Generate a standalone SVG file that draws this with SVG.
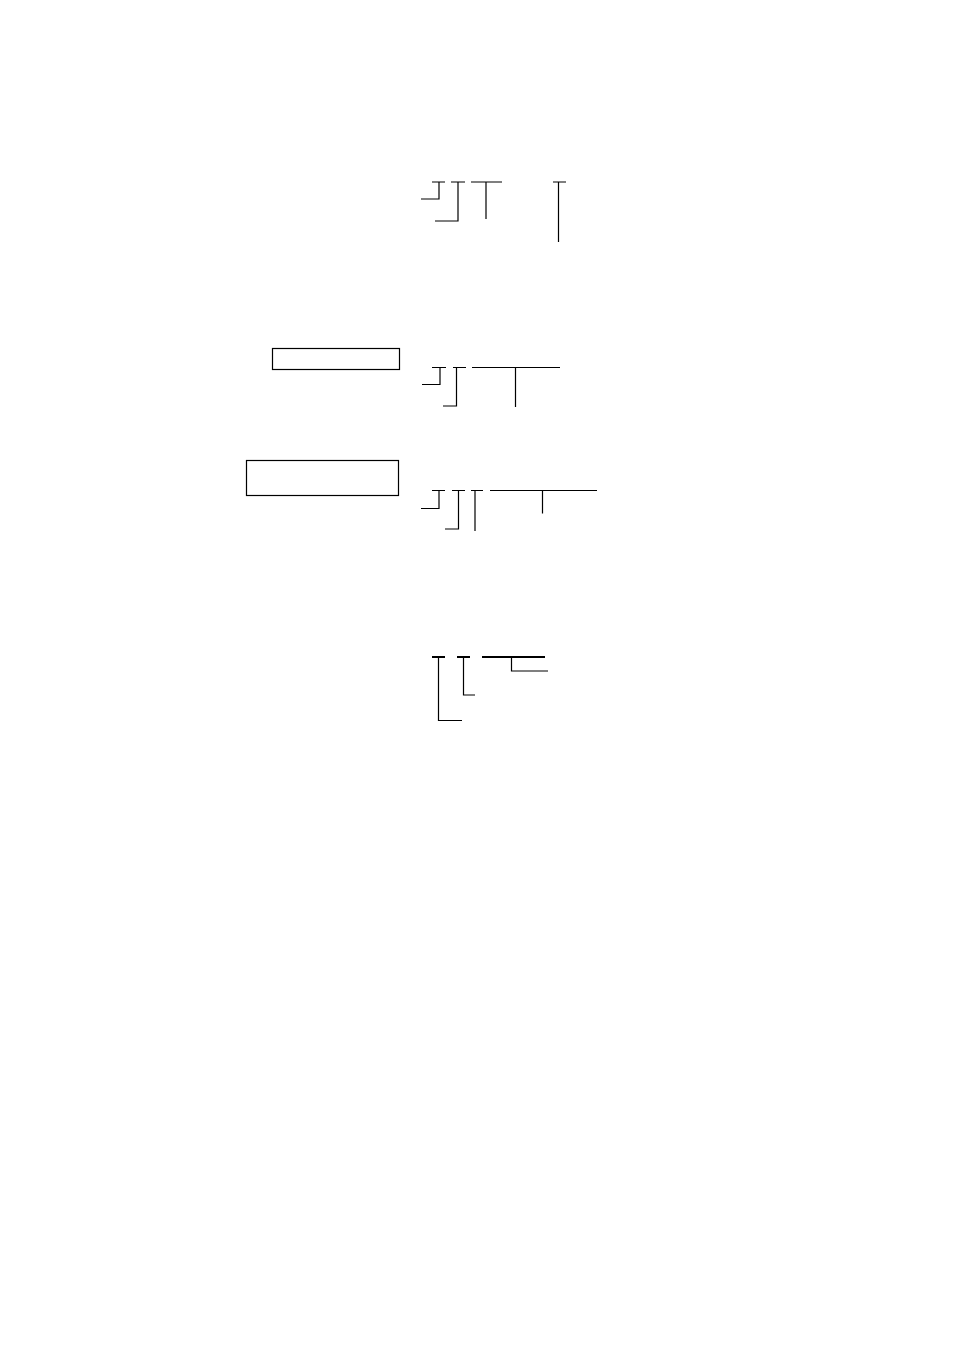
<svg xmlns="http://www.w3.org/2000/svg" width="954" height="1350" viewBox="0 0 954 1350">
<style>
.ln{fill:none;stroke:#000;stroke-width:1.2}
.thk{fill:none;stroke:#000;stroke-width:2}
.box{fill:#fff;stroke:#000;stroke-width:1.2}
</style>
<rect x="0" y="0" width="954" height="1350" fill="#fff"/>
<g id="node-box1"><rect class="box" x="272.5" y="348.5" width="127" height="21"/></g>
<g id="node-box2"><rect class="box" x="246.5" y="460.5" width="152" height="35"/></g>
<g id="connectors">
<g id="group1">
<path class="ln" d="M432 182H445M439 182V199H421"/>
<path class="ln" d="M451 182H465M458 182V221H435"/>
<path class="ln" d="M471 182H502M486 182V219"/>
<path class="ln" d="M553 182H566M558.5 182V242"/>
</g>
<g id="group2">
<path class="ln" d="M432 367.5H446M440 367.5V384.5H422"/>
<path class="ln" d="M453 367.5H466M456.5 367.5V406H443"/>
<path class="ln" d="M472 367.5H560M515.5 367.5V407"/>
</g>
<g id="group3">
<path class="ln" d="M432 490.5H445M439 490.5V508.5H421"/>
<path class="ln" d="M452 490.5H465M458.5 490.5V529H445"/>
<path class="ln" d="M471 490.5H483M475 490.5V531"/>
<path class="ln" d="M490 490.5H597M542.5 490.5V513.5"/>
</g>
<g id="group4">
<path class="thk" d="M432 657H445"/>
<path class="ln" d="M438.5 657V720.5H462"/>
<path class="thk" d="M457 657H470"/>
<path class="ln" d="M463.5 657V695H475"/>
<path class="thk" d="M482 657H545"/>
<path class="ln" d="M511.5 657V671H548"/>
</g>
</g>
</svg>
